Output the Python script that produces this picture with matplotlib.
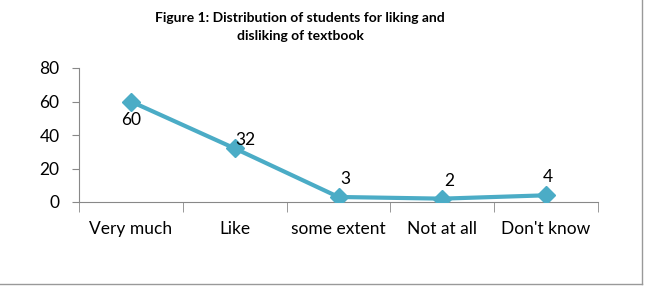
import matplotlib.pyplot as plt
import matplotlib.lines as mlines

categories = ['Very much', 'Like', 'some extent', 'Not at all', "Don't know"]
values = [60, 32, 3, 2, 4]
label_offsets = [(0, -13), (8, 6), (5, 13), (5, 13), (1, 13)]
yticks = [0, 20, 40, 60, 80]

plt.rcParams['font.family'] = ['Lato', 'DejaVu Sans']

fig = plt.figure(figsize=(6.46, 2.92), dpi=100)
ax = fig.add_axes([79 / 646, 90 / 292, 519 / 646, 134 / 292])

xs = list(range(len(categories)))
ax.plot(xs, values, color='#4BACC6', lw=3, marker='D', ms=9, zorder=3)

for x, v, (dx, dy) in zip(xs, values, label_offsets):
    ax.annotate(str(v), (x, v), xytext=(dx, dy), textcoords='offset points',
                ha='center', va='center', fontsize=12.5, color='black')

ax.set_xlim(-0.5, len(categories) - 0.5)
ax.set_ylim(0, 80)
ax.set_yticks(yticks)
ax.set_xticks(xs)
ax.set_xticklabels(categories, fontsize=12.5)
ax.tick_params(axis='x', length=0, pad=14)
ax.tick_params(axis='y', labelsize=12.5, length=5, color='#888888', pad=9)
ax.set_xticks([x - 0.5 for x in range(len(categories) + 1)], minor=True)
ax.tick_params(axis='x', which='minor', length=7, color='#888888', direction='out')
for s in ['top', 'right']:
    ax.spines[s].set_visible(False)
for s in ['left', 'bottom']:
    ax.spines[s].set_color('#888888')

fig.text(300 / 646, 1 - 27 / 292, 'Figure 1: Distribution of students for liking and\ndisliking of textbook',
         ha='center', va='center', fontsize=10, fontweight='bold', linespacing=1.5)

# chart frame (right and bottom edges visible)
fig.add_artist(mlines.Line2D([642 / 646, 642 / 646], [1, 1 - 284 / 292], color='#999999', lw=1))
fig.add_artist(mlines.Line2D([0, 642 / 646], [1 - 284 / 292, 1 - 284 / 292], color='#999999', lw=1))

fig.savefig('out.png', dpi=100)
